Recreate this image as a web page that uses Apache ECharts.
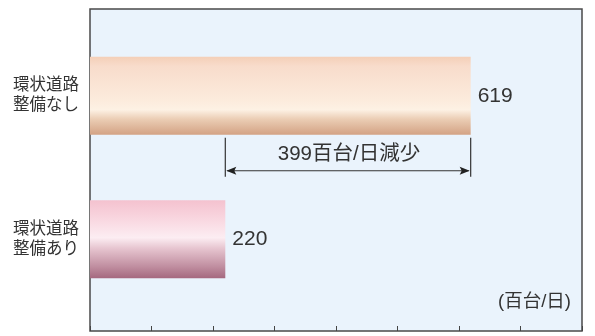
<!DOCTYPE html>
<html>
<head>
<meta charset="utf-8">
<script src="https://cdn.jsdelivr.net/npm/echarts@6/dist/echarts.min.js"></script>
<style>
html,body{margin:0;padding:0;background:#fff;}
#chart{width:595px;height:336px;}
</style>
</head>
<body>
<div id="chart"></div>
<script>
var categories = ['環状道路\n整備なし', '環状道路\n整備あり'];
var values = [619, 220];
var unitLabel = '(百台/日)';
var diffSuffix = '百台/日減少';
var axisMax = 800;
var axisInterval = 100;

var FONT = '"Liberation Sans", "Noto Sans CJK JP", sans-serif';
var chart = echarts.init(document.getElementById('chart'), null, {renderer: 'canvas'});

function grad(stops) {
  return new echarts.graphic.LinearGradient(0, 0, 0, 1, stops);
}
var barColors = [
  grad([{offset:0,color:'#f4cfb8'},{offset:0.12,color:'#f8dccb'},{offset:0.55,color:'#fcebdc'},{offset:0.68,color:'#fdf1e4'},{offset:0.8,color:'#ebcdb4'},{offset:1,color:'#d3a284'}]),
  grad([{offset:0,color:'#f4c2cf'},{offset:0.2,color:'#f8d3dd'},{offset:0.48,color:'#fcedf2'},{offset:0.62,color:'#e6c4cf'},{offset:0.85,color:'#c08ea0'},{offset:1,color:'#a5687f'}])
];

var option = {
  animation: false,
  grid: [
    {left: 90, right: 13, top: 9, bottom: 5, show: true, backgroundColor: '#eaf3fc', borderColor: '#4a4a4a', borderWidth: 1.5},
    {left: 90, right: 13, top: 24, bottom: 25}
  ],
  xAxis: [
    {gridIndex: 0, type: 'value', min: 0, max: axisMax, interval: axisInterval,
     axisLine: {show: false}, axisTick: {show: true, inside: true, length: 5, lineStyle: {color: '#444', width: 1}},
     axisLabel: {show: false}, splitLine: {show: false}},
    {gridIndex: 1, type: 'value', min: 0, max: axisMax, show: false}
  ],
  yAxis: [
    {gridIndex: 0, type: 'value', show: false},
    {gridIndex: 1, type: 'category', data: categories, inverse: true,
     axisLine: {show: false}, axisTick: {show: false},
     axisLabel: {color: '#333', fontSize: 16.5, fontFamily: FONT, lineHeight: 20, margin: 11, align: 'right'}}
  ],
  series: [{
    type: 'bar', xAxisIndex: 1, yAxisIndex: 1, barWidth: 78,
    data: values.map(function (v, i) { return {value: v, itemStyle: {color: barColors[i]}}; }),
    label: {show: true, position: 'right', distance: 7, color: '#333', fontSize: 21, fontFamily: FONT}
  }]
};
chart.setOption(option);

// annotation built from data values
var xA = chart.convertToPixel({xAxisIndex: 1}, values[1]);
var xB = chart.convertToPixel({xAxisIndex: 1}, values[0]);
var yc = chart.convertToPixel({yAxisIndex: 1}, categories[0]);
var barBottom = yc + 39;
var yArrow = barBottom + 36;
var plotRight = chart.convertToPixel({xAxisIndex: 0}, axisMax);
var plotBottom = chart.convertToPixel({yAxisIndex: 0}, 0);
var stroke = {stroke: '#333', lineWidth: 1.2};
chart.setOption({
  graphic: [
    {type: 'line', shape: {x1: xA, y1: barBottom + 3, x2: xA, y2: yArrow + 6}, style: stroke},
    {type: 'line', shape: {x1: xB, y1: barBottom + 3, x2: xB, y2: yArrow + 6}, style: stroke},
    {type: 'line', shape: {x1: xA + 2, y1: yArrow, x2: xB - 2, y2: yArrow}, style: stroke},
    {type: 'polygon', shape: {points: [[xA + 1, yArrow], [xA + 11, yArrow - 4], [xA + 9, yArrow], [xA + 11, yArrow + 4]]}, style: {fill: '#222'}},
    {type: 'polygon', shape: {points: [[xB - 1, yArrow], [xB - 11, yArrow - 4], [xB - 9, yArrow], [xB - 11, yArrow + 4]]}, style: {fill: '#222'}},
    {type: 'text', x: (xA + xB) / 2 + 1, y: yArrow - 16,
     style: {text: (values[0] - values[1]) + diffSuffix, fill: '#333', fontSize: 20.5, fontFamily: FONT, align: 'center', verticalAlign: 'middle'}},
    {type: 'text', x: plotRight - 11, y: plotBottom - 29,
     style: {text: unitLabel, fill: '#333', fontSize: 18.5, fontFamily: FONT, align: 'right', verticalAlign: 'middle'}}
  ]
});
</script>
</body>
</html>
